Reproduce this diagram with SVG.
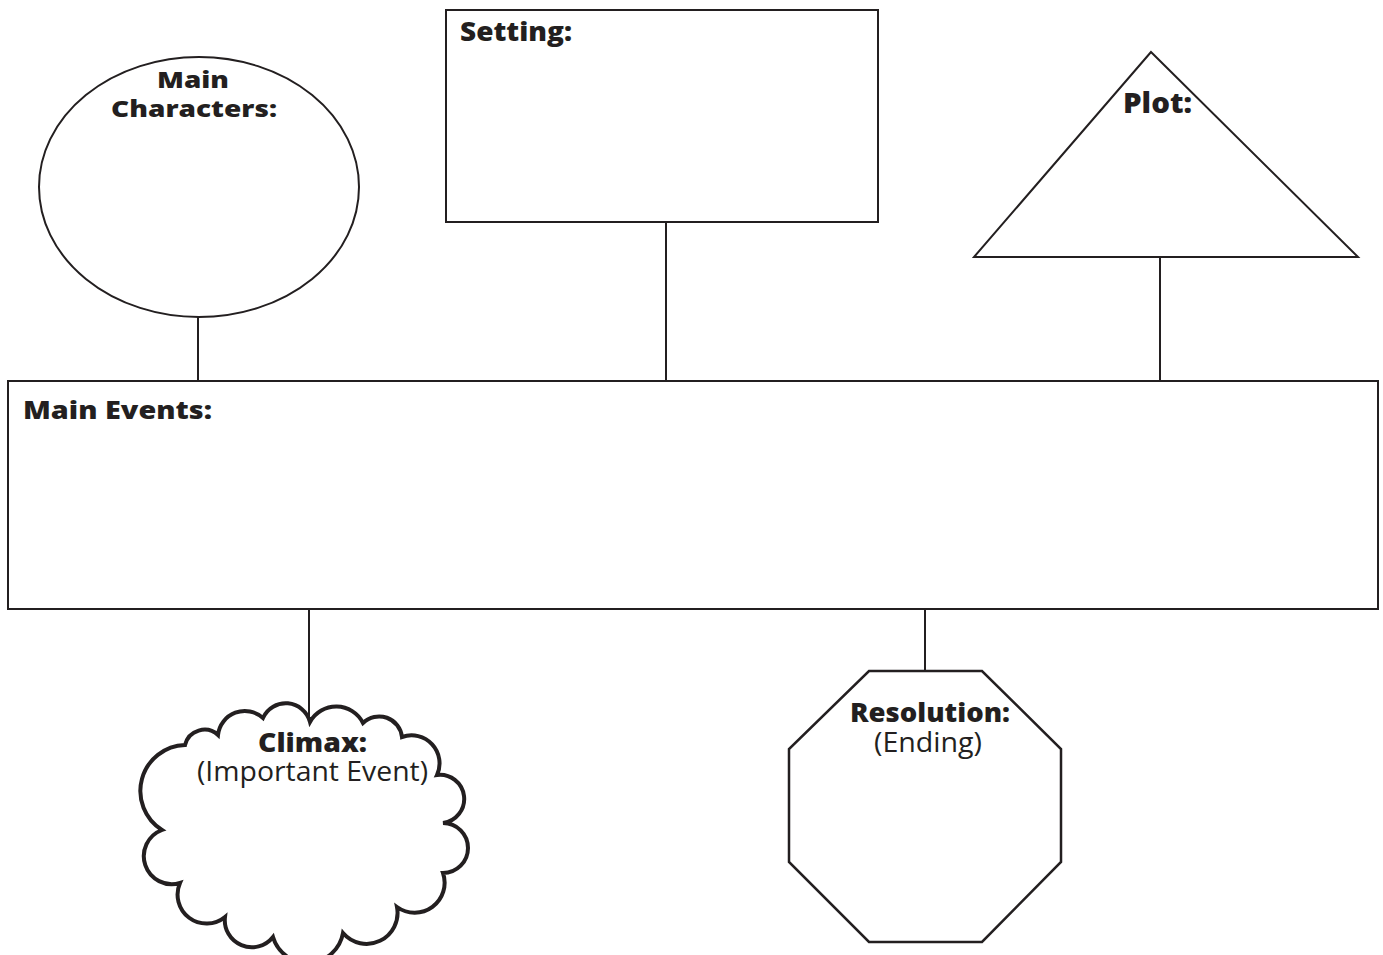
<svg xmlns="http://www.w3.org/2000/svg" width="1383" height="955" viewBox="0 0 1383 955">
<style>
.s{fill:#fff;stroke:#231f20;stroke-width:2}
.c{stroke:#231f20;stroke-width:2;fill:none}
.b{font-family:"Open Sans","Noto Sans",sans-serif;font-weight:800;fill:#231f20}
.r{font-family:"Open Sans","Noto Sans",sans-serif;font-weight:400;fill:#231f20}
</style>
<rect width="1383" height="955" fill="#fff"/>
<g id="connectors">
<line class="c" x1="198" y1="316" x2="198" y2="381"/>
<line class="c" x1="666" y1="222" x2="666" y2="381"/>
<line class="c" x1="1160" y1="257" x2="1160" y2="381"/>
<line class="c" x1="309" y1="609" x2="309" y2="720"/>
<line class="c" x1="925" y1="609" x2="925" y2="671"/>
</g>
<g id="main-characters">
<ellipse class="s" cx="199" cy="187" rx="160" ry="130"/>
<text class="b" x="157" y="88" font-size="23" textLength="72" lengthAdjust="spacingAndGlyphs">Main</text>
<text class="b" x="111" y="117" font-size="23" textLength="166" lengthAdjust="spacingAndGlyphs">Characters:</text>
</g>
<g id="setting">
<rect class="s" x="446" y="10" width="432" height="212"/>
<text class="b" x="460" y="41" font-size="27" textLength="112" lengthAdjust="spacingAndGlyphs">Setting:</text>
</g>
<g id="plot">
<polygon class="s" points="1151,52 974,257 1358,257"/>
<text class="b" x="1123" y="113" font-size="28" textLength="69" lengthAdjust="spacingAndGlyphs">Plot:</text>
</g>
<g id="main-events">
<rect class="s" x="8" y="381" width="1370" height="228"/>
<text class="b" x="23" y="419" font-size="25" textLength="189" lengthAdjust="spacingAndGlyphs">Main Events:</text>
</g>
<g id="climax">
<path class="s" style="stroke-width:4" d="M310,722 A30,30 0 0 1 363,723 A23,23 0 0 1 402,737 A28,28 0 0 1 437,775 A24,24 0 0 1 443,823 A25,25 0 0 1 443,873 A30,30 0 0 1 397,907 A31,31 0 0 1 343,933 A36,36 0 0 1 273,937 A27,27 0 0 1 225,917 A29,29 0 0 1 180,883 A28,28 0 0 1 162,830 A46,46 0 0 1 185,745 A20,20 0 0 1 218,735 A27,27 0 0 1 263,718 A25,25 0 0 1 310,722 Z"/>
<text class="b" x="258" y="752" font-size="26" textLength="109" lengthAdjust="spacingAndGlyphs">Climax:</text>
<text class="r" x="197" y="781" font-size="27" textLength="231" lengthAdjust="spacingAndGlyphs">(Important Event)</text>
</g>
<g id="resolution">
<polygon class="s" style="stroke-width:2.5" points="869,671 982,671 1061,749 1061,862 982,942 869,942 789,862 789,749"/>
<text class="b" x="850" y="722" font-size="27" textLength="160" lengthAdjust="spacingAndGlyphs">Resolution:</text>
<text class="r" x="874" y="752" font-size="27" textLength="108" lengthAdjust="spacingAndGlyphs">(Ending)</text>
</g>
</svg>
